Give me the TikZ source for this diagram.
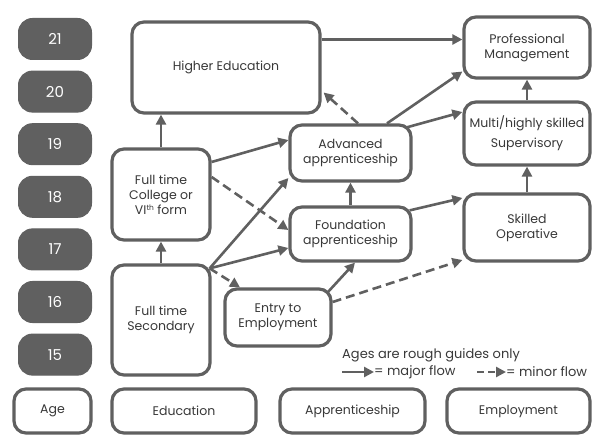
\documentclass[tikz,border=0pt]{standalone}
\usepackage{fontspec}
\setmainfont{Poppins}
\usetikzlibrary{arrows.meta,calc}
\definecolor{lg}{HTML}{606060}
\definecolor{tx}{HTML}{383838}
\newcommand{\supth}{{\fontsize{7.5}{7.5}\selectfont\raisebox{3.2pt}{th}}}
\begin{document}
\begin{tikzpicture}[x=1pt,y=-1pt,
  box/.style={draw=lg, line width=3.2pt, rounded corners=12pt, fill=white, align=center,
    inner sep=0pt, text=tx, font=\fontsize{12.5}{15}\selectfont},
  agebox/.style={draw=lg, fill=lg, line width=1pt, rounded corners=14pt, text=white,
    font=\fontsize{15}{17}\selectfont, minimum width=73pt, minimum height=41pt, inner sep=0pt},
  major/.style={draw=lg, line width=2.6pt, -{Triangle[length=10pt,width=10pt]}},
  minor/.style={major, dash pattern=on 9pt off 5pt},
  legtext/.style={anchor=west, inner sep=0pt, text=tx, font=\fontsize{13}{15}\selectfont}]
\useasboundingbox (0,0) rectangle (594,438);

% age column
\node[agebox] (a21) at (55,39) {21};
\node[agebox] (a20) at (55,91.6) {20};
\node[agebox] (a19) at (55,144.2) {19};
\node[agebox] (a18) at (55,196.8) {18};
\node[agebox] (a17) at (55,249.4) {17};
\node[agebox] (a16) at (55,302) {16};
\node[agebox] (a15) at (55,354.6) {15};

% main boxes
\node[box, minimum width=188pt, minimum height=91pt] (he) at (226,67.5) {Higher Education};
\node[box, minimum width=126pt, minimum height=61pt] (pm) at (527,47.5) {Professional\\Management};
\node[box, minimum width=126pt, minimum height=63pt, font=\fontsize{12.5}{20}\selectfont] (multi) at (527,133.5) {Multi/highly skilled\\Supervisory};
\node[box, minimum width=126pt, minimum height=67pt] (skilled) at (527,227.5) {Skilled\\Operative};
\node[box, minimum width=121pt, minimum height=56pt] (adv) at (350.5,153) {Advanced\\apprenticeship};
\node[box, minimum width=121pt, minimum height=54pt] (found) at (350.5,234) {Foundation\\apprenticeship};
\node[box, minimum width=106pt, minimum height=57pt] (ete) at (278,317.5) {Entry to\\Employment};
\node[box, minimum width=98pt, minimum height=91pt] (college) at (161,194.5) {Full time\\College or\\VI\supth{} form};
\node[box, minimum width=98pt, minimum height=110pt] (secondary) at (161,320) {Full time\\Secondary};

% bottom row
\node[box, minimum width=77pt, minimum height=44pt] (age) at (52.5,411) {Age};
\node[box, minimum width=144pt, minimum height=44pt] (edu) at (184,411) {Education};
\node[box, minimum width=145pt, minimum height=44pt] (app) at (352.5,411) {Apprenticeship};
\node[box, minimum width=143pt, minimum height=44pt] (emp) at (518.5,411) {Employment};

% connectors
\coordinate (sc) at ([xshift=-2pt,yshift=-5pt]secondary.north east);
\draw[major] (college.north) -- (college.north |- he.south);
\draw[major] (secondary.north) -- (college.south);
\draw[major] ([yshift=28pt]he.east) -- ([yshift=28pt]he.east -| pm.west);
\draw[minor] ([xshift=7.5pt]adv.north) -- ([xshift=2pt,yshift=-25pt]he.east);
\draw[major] ([xshift=36.5pt]adv.north) -- ([yshift=-24pt]pm.west);
\draw[major] ([xshift=-6pt,yshift=-4pt]adv.north east) -- ([yshift=21.5pt]multi.west);
\draw[major] (multi.north) -- (pm.south);
\draw[major] (skilled.north) -- (multi.south);
\draw[major] ([xshift=-3pt,yshift=-5pt]found.north east) -- ([yshift=29.5pt]skilled.west);
\draw[major] (found.north) -- (adv.south);
\draw[major] ([yshift=32.5pt]college.east) -- ([yshift=13pt]adv.west);
\draw[minor] ([yshift=17.5pt]college.east) -- ([yshift=4pt]found.west);
\draw[major] (sc) -- ([yshift=-25pt]adv.west);
\draw[major] (sc) -- ([yshift=-14pt]found.west);
\draw[minor] (sc) -- ([xshift=-38pt]ete.north);
\draw[major] ([xshift=-5pt,yshift=-5pt]ete.north east) -- ([xshift=4.5pt]found.south);
\draw[minor] ([yshift=15.5pt]ete.east) -- ([yshift=-32.5pt]skilled.west);

% legend
\node[legtext] (note) at (342,355) {Ages are rough guides only};
\coordinate (l1a) at (342,372);
\coordinate (l1b) at (374,372);
\node[legtext] (majtxt) at (374,372) {= major flow};
\coordinate (l2a) at (477,372);
\coordinate (l2b) at (506,372);
\node[legtext] (mintxt) at (506,372) {= minor flow};
\draw[major] (l1a) -- (l1b);
\draw[minor, dash pattern=on 7pt off 4pt] (l2a) -- (l2b);
\end{tikzpicture}
\end{document}
